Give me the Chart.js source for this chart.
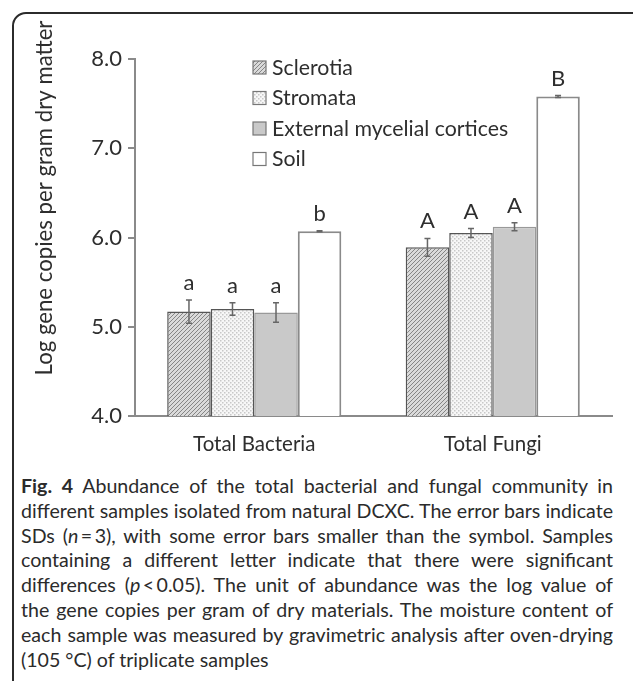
<!DOCTYPE html>
<html lang="en">
<head>
    <meta charset="UTF-8">
    <title>Fig. 4</title>
    <script src="https://cdn.jsdelivr.net/npm/chart.js"></script>
    <style>
        body { margin: 0; background: #fff; width: 633px; height: 681px; overflow: hidden; position: relative; }
        .frame {
            position: absolute; left: 12px; top: 12px; width: 660px; height: 720px;
            border: 2px solid #2b2b2b; border-radius: 14px; box-sizing: border-box;
        }
        .chart-box { position: absolute; left: 0; top: 0; width: 633px; height: 465px; }
        .caption {
            position: absolute; left: 21px; top: 474px; width: 592px;
            font-family: Lato, sans-serif; font-size: 19.6px; line-height: 24.8px; color: #2b2b2b;
        }
        .caption div { white-space: nowrap; text-align: justify; text-align-last: justify; }
        .caption div.last { text-align-last: left; }
    </style>
</head>
<body>
    <div class="frame"></div>
    <div class="chart-box">
        <canvas id="abundanceChart" width="633" height="465"></canvas>
    </div>
    <div class="caption">
        <div><b>Fig. 4</b> Abundance of the total bacterial and fungal community in</div>
        <div>different samples isolated from natural DCXC. The error bars indicate</div>
        <div>SDs (<i>n</i>&thinsp;=&thinsp;3), with some error bars smaller than the symbol. Samples</div>
        <div>containing a different letter indicate that there were significant</div>
        <div>differences (<i>p</i>&thinsp;&lt;&thinsp;0.05). The unit of abundance was the log value of</div>
        <div>the gene copies per gram of dry materials. The moisture content of</div>
        <div>each sample was measured by gravimetric analysis after oven-drying</div>
        <div class="last">(105 °C) of triplicate samples</div>
    </div>

    <script>
        // dados
        const categorias = ["Total Bacteria", "Total Fungi"];
        const amostras = ["Sclerotia", "Stromata", "External mycelial cortices", "Soil"];

        const sclerotia = [5.17, 5.89];
        const stromata = [5.20, 6.05];
        const cortices = [5.16, 6.12];
        const soil = [6.07, 7.58];

        const sdSclerotia = [0.13, 0.10];
        const sdStromata = [0.07, 0.05];
        const sdCortices = [0.11, 0.045];
        const sdSoil = [0.005, 0.01];

        const letrasSclerotia = ["a", "A"];
        const letrasStromata = ["a", "A"];
        const letrasCortices = ["a", "A"];
        const letrasSoil = ["b", "B"];

        const yTicks = [4, 5, 6, 7, 8];
        const yTitulo = "Log gene copies per gram dry matter";

        const fonte = "Lato, 'Open Sans', sans-serif";
        const corTexto = "#2e2e2e";

        // padrões das barras
        const padraoHachurado = () => {
            const c = document.createElement("canvas");
            c.width = 4; c.height = 4;
            const g = c.getContext("2d");
            g.fillStyle = "#dadada";
            g.fillRect(0, 0, 4, 4);
            g.strokeStyle = "#858585";
            g.lineWidth = 1;
            g.beginPath();
            g.moveTo(-1, 5); g.lineTo(5, -1);
            g.moveTo(-1, 1); g.lineTo(1, -1);
            g.moveTo(3, 5); g.lineTo(5, 3);
            g.stroke();
            return g.createPattern(c, "repeat");
        };

        const padraoPontilhado = () => {
            const c = document.createElement("canvas");
            c.width = 4; c.height = 4;
            const g = c.getContext("2d");
            g.fillStyle = "#f7f7f7";
            g.fillRect(0, 0, 4, 4);
            g.fillStyle = "#c8c8c8";
            g.fillRect(0, 0, 1.5, 1.5);
            g.fillRect(2, 2, 1.5, 1.5);
            return g.createPattern(c, "repeat");
        };

        const series = [
            { label: amostras[0], data: sclerotia, sd: sdSclerotia, letras: letrasSclerotia,
              backgroundColor: padraoHachurado(), borderColor: "#555", borderWidth: 1.5 },
            { label: amostras[1], data: stromata, sd: sdStromata, letras: letrasStromata,
              backgroundColor: padraoPontilhado(), borderColor: "#555", borderWidth: 1.5 },
            { label: amostras[2], data: cortices, sd: sdCortices, letras: letrasCortices,
              backgroundColor: "#c9c9c9", borderColor: "#999", borderWidth: 1.5 },
            { label: amostras[3], data: soil, sd: sdSoil, letras: letrasSoil,
              backgroundColor: "#ffffff", borderColor: "#8a8a8a", borderWidth: 2 },
        ];

        // barras de erro + letras
        const errosPlugin = {
            id: "erros",
            afterDatasetsDraw(chart) {
                const ctx = chart.ctx;
                const y = chart.scales.y;
                ctx.save();
                chart.data.datasets.forEach((ds, i) => {
                    const meta = chart.getDatasetMeta(i);
                    meta.data.forEach((bar, j) => {
                        const v = ds.data[j];
                        const sd = ds.sd[j];
                        const yTop = y.getPixelForValue(v + sd);
                        const yBot = y.getPixelForValue(v - sd);
                        ctx.strokeStyle = "#666";
                        ctx.lineWidth = 1.5;
                        ctx.beginPath();
                        ctx.moveTo(bar.x, yTop); ctx.lineTo(bar.x, yBot);
                        ctx.moveTo(bar.x - 3, yTop); ctx.lineTo(bar.x + 3, yTop);
                        ctx.moveTo(bar.x - 3, yBot); ctx.lineTo(bar.x + 3, yBot);
                        ctx.stroke();

                        ctx.fillStyle = corTexto;
                        ctx.font = "22px " + fonte;
                        ctx.textAlign = "center";
                        ctx.textBaseline = "alphabetic";
                        ctx.fillText(ds.letras[j], bar.x, Math.min(yTop, y.getPixelForValue(v)) - 10);
                    });
                });
                ctx.restore();
            }
        };

        // legenda e título do eixo y
        const extrasPlugin = {
            id: "extras",
            afterDraw(chart) {
                const ctx = chart.ctx;
                ctx.save();
                chart.data.datasets.forEach((ds, i) => {
                    const yy = 68 + i * 30.5;
                    ctx.fillStyle = ds.backgroundColor;
                    ctx.fillRect(253, yy - 7, 13, 13);
                    ctx.strokeStyle = "#777";
                    ctx.lineWidth = 1.2;
                    ctx.strokeRect(253, yy - 7, 13, 13);
                    ctx.fillStyle = corTexto;
                    ctx.font = "21.3px " + fonte;
                    ctx.textAlign = "left";
                    ctx.textBaseline = "middle";
                    ctx.fillText(ds.label, 272, yy);
                });

                ctx.translate(45, 198);
                ctx.rotate(-Math.PI / 2);
                ctx.fillStyle = corTexto;
                ctx.font = "22.2px " + fonte;
                ctx.textAlign = "center";
                ctx.textBaseline = "middle";
                ctx.fillText(yTitulo, 0, 0);
                ctx.restore();
            }
        };

        const ctxAbundancia = document.getElementById("abundanceChart").getContext("2d");
        const abundanceChart = new Chart(ctxAbundancia, {
            type: "bar",
            data: {
                labels: categorias,
                datasets: series,
            },
            options: {
                responsive: false,
                animation: false,
                layout: { padding: { left: 0, right: 21, top: 59, bottom: 0 } },
                plugins: {
                    legend: { display: false },
                    tooltip: { enabled: false },
                },
                datasets: {
                    bar: { categoryPercentage: 0.73, barPercentage: 1.0 },
                },
                scales: {
                    x: {
                        grid: { display: false },
                        border: { display: true, color: "#8a8a8a", width: 2 },
                        ticks: { color: corTexto, font: { family: fonte, size: 20.5 }, padding: 8 },
                        afterFit: (scale) => { scale.height = 49; },
                    },
                    y: {
                        min: yTicks[0],
                        max: yTicks[yTicks.length - 1],
                        afterBuildTicks: (scale) => { scale.ticks = yTicks.map(v => ({ value: v })); },
                        grid: { display: true, drawOnChartArea: false, drawTicks: true, tickLength: 7, color: "#8a8a8a", lineWidth: 2 },
                        border: { display: true, color: "#8a8a8a", width: 2 },
                        ticks: {
                            color: corTexto,
                            font: { family: fonte, size: 22 },
                            padding: 6,
                            callback: (v) => Number(v).toFixed(1),
                        },
                        afterFit: (scale) => { scale.width = 135; },
                    },
                },
            },
            plugins: [errosPlugin, extrasPlugin],
        });
    </script>
</body>
</html>
